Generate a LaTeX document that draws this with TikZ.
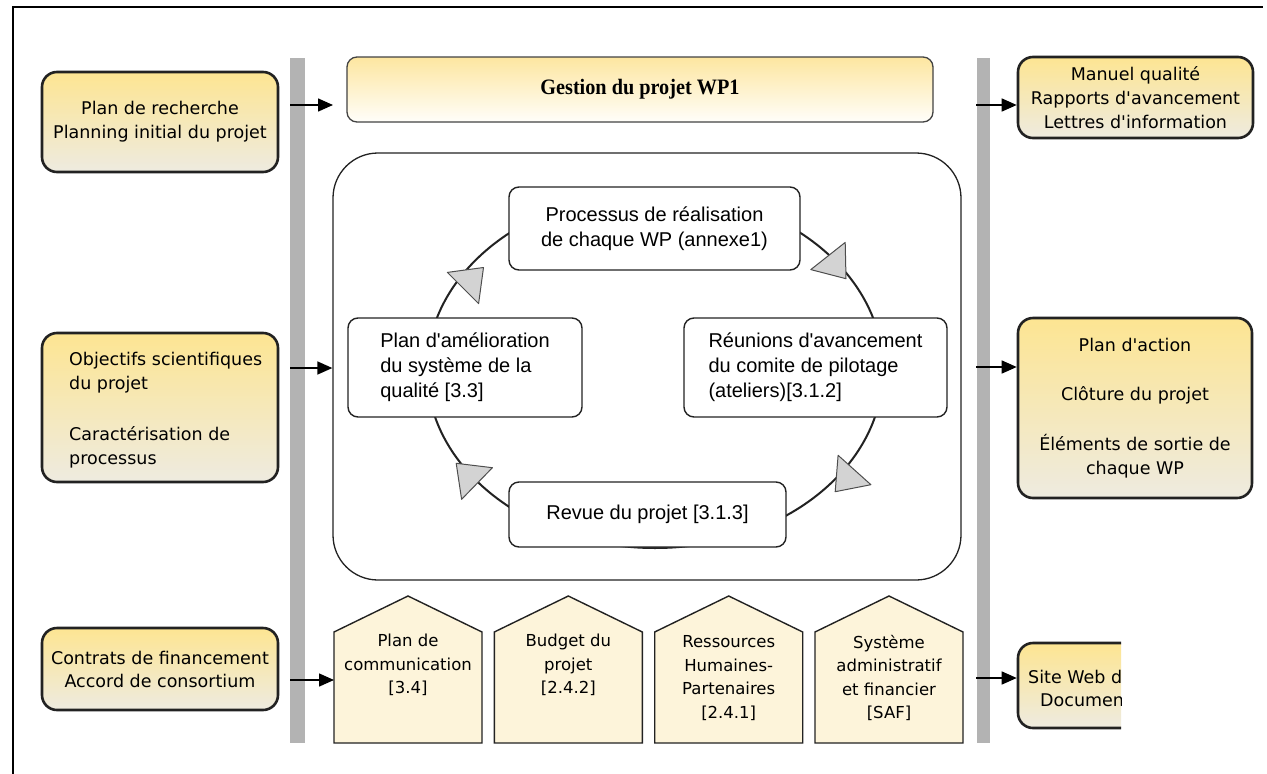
\documentclass[tikz,border=0pt]{standalone}
\usepackage{fontspec}
\setmainfont{DejaVu Sans}[Ligatures=TeXOff]
\newfontfamily\midfont{Liberation Sans}[Ligatures=TeXOff]
\newfontfamily\gestfont{Liberation Serif}[FakeStretch=0.92]
\usetikzlibrary{arrows.meta}
\definecolor{ytop}{HTML}{FDE592}
\definecolor{ybot}{HTML}{EEEBE0}
\definecolor{gtop}{HTML}{FDE6A0}
\definecolor{gbot}{HTML}{FFFEFA}
\definecolor{barc}{HTML}{B3B3B3}
\definecolor{housec}{HTML}{FDF4DA}
\definecolor{tric}{HTML}{D3D3D3}
\definecolor{edgec}{HTML}{222222}
\begin{document}
\begin{tikzpicture}[x=1pt,y=-1pt,
  inbox/.style={draw=edgec, line width=2.6pt, rounded corners=15pt, top color=ytop, bottom color=ybot, inner sep=0pt},
  outtxt/.style={inner sep=0pt, font=\fontsize{17.5}{24}\selectfont},
  midbox/.style={draw=edgec, line width=1.4pt, rounded corners=10pt, fill=white, inner sep=0pt, font=\midfont\fontsize{20}{25}\selectfont},
  housetxt/.style={inner sep=0pt, align=center, font=\fontsize{16.5}{23.5}\selectfont},
  housebox/.style={draw=edgec, line width=1.4pt, fill=housec},
  tri/.style={draw=edgec!80, line width=1pt, fill=tric, line join=round},
  arr/.style={line width=1.5pt, -{Triangle[length=15pt,width=13pt]}},
  bar/.style={fill=barc}
]
\useasboundingbox (0,0) rectangle (1267,774);
\fill[white] (0,0) rectangle (1267,774);
% frame
\draw[line width=2pt] (13,774) -- (13,7) -- (1263,7);
% gray bars
\fill[bar] (290,58) rectangle (305,743);
\fill[bar] (977,58) rectangle (990,743);

% left inputs
\node[inbox, minimum width=236pt, minimum height=100pt, align=center, font=\fontsize{17.5}{24}\selectfont] (in1) at (160,122) {Plan de recherche\\Planning initial du projet};
\node[inbox, minimum width=236pt, minimum height=149pt] (in2) at (160,407.5) {};
\node[outtxt, anchor=west, align=left] (in2t) at (69,410.5) {Objectifs scientifiques\\du projet\\[27pt]Caractérisation de\\processus};
\node[inbox, minimum width=236pt, minimum height=82pt, align=center, font=\fontsize{17.5}{23}\selectfont] (in3) at (160,669) {Contrats de financement\\Accord de consortium};

% right outputs
\node[inbox, minimum width=235pt, minimum height=81pt, align=center, font=\fontsize{17.5}{24}\selectfont] (out1) at (1135.5,97.5) {Manuel qualit\'e\\Rapports d'avancement\\Lettres d'information};
\node[inbox, minimum width=234pt, minimum height=180pt, align=center, font=\fontsize{17.5}{24}\selectfont] (out2) at (1135,408) {Plan d'action\\[25pt]Cl\^oture du projet\\[26pt]\'El\'ements de sortie de\\chaque WP};
\begin{scope}
  \clip (1000,630) rectangle (1121,742);
  \node[inbox, minimum width=235pt, minimum height=85pt] (out3) at (1135.5,685.5) {};
  \node[outtxt, anchor=west] (out3a) at (1028,677) {Site Web d};
  \node[outtxt, anchor=west] (out3b) at (1040,700) {Documen};
\end{scope}

% top management box
\node[draw=edgec!85, line width=1.3pt, rounded corners=10pt, top color=gtop, bottom color=gbot, minimum width=586pt, minimum height=65pt, inner sep=0pt, font=\gestfont\bfseries\fontsize{22}{24}\selectfont] (gest) at (640,89.5) {Gestion du projet WP1};

% container
\node[draw=edgec, line width=1.3pt, rounded corners=45pt, minimum width=628pt, minimum height=427pt, inner sep=0pt] (cont) at (647,366.5) {};

% cycle
\draw[edgec, line width=2pt] (655,370) ellipse [x radius=228pt, y radius=178pt];

\node[midbox, minimum width=291pt, minimum height=83pt, align=center] (proc) at (654.5,228.5) {Processus de r\'ealisation\\de chaque WP (annexe1)};
\node[midbox, minimum width=234pt, minimum height=99pt, align=left] (amel) at (465,367.5) {Plan d'am\'elioration\\du syst\`eme de la\\qualit\'e [3.3]};
\node[midbox, minimum width=263pt, minimum height=99pt, align=left] (reun) at (815.5,367.5) {R\'eunions d'avancement\\du comite de pilotage\\(ateliers)[3.1.2]};
\node[midbox, minimum width=277pt, minimum height=65pt, align=center] (revue) at (647.5,514.5) {Revue du projet [3.1.3]};

% cycle arrowheads
\draw[tri] (483.5,267.5) -- (478.6,303.6) -- (447.4,272.4) -- cycle;
\draw[tri] (846,278.7) -- (845.2,242.4) -- (810.8,269.6) -- cycle;
\draw[tri] (835.2,491.7) -- (870.9,484.7) -- (838.1,455.3) -- cycle;
\draw[tri] (456.2,463.3) -- (492.4,467.7) -- (461.6,499.3) -- cycle;

% resource houses
\foreach \xl/\nm/\txt/\yc in {334/h1/{Plan de\\communication\\{[3.4]}}/665,
                               494.3/h2/{Budget du\\projet\\{[2.4.2]}}/665,
                               654.7/h3/{Ressources\\Humaines-\\Partenaires\\{[2.4.1]}}/678,
                               815/h4/{Syst\`eme\\administratif\\et financier\\{[SAF]}}/678}{
  \draw[housebox] (\xl,743) -- (\xl,632) -- (\xl+74,596) -- (\xl+148,632) -- (\xl+148,743) -- cycle;
  \node[housetxt] (\nm) at (\xl+74,\yc) {\txt};
}
\coordinate (h1w) at (334,680);

% arrows
\coordinate (la1) at (290,105);
\coordinate (gin) at (333,105);
\coordinate (la2) at (290,368);
\coordinate (la3) at (290,680);
\coordinate (ra1) at (976,105);
\coordinate (ra2) at (976,367);
\coordinate (ra3) at (976,678);
\draw[arr] (la1) -- (gin);
\draw[arr] (la2) -- (cont.west |- la2);
\draw[arr] (la3) -- (h1w);
\draw[arr] (ra1) -- (out1.west |- ra1);
\draw[arr] (ra2) -- (out2.west |- ra2);
\draw[arr] (ra3) -- (out3.west |- ra3);
\end{tikzpicture}
\end{document}
